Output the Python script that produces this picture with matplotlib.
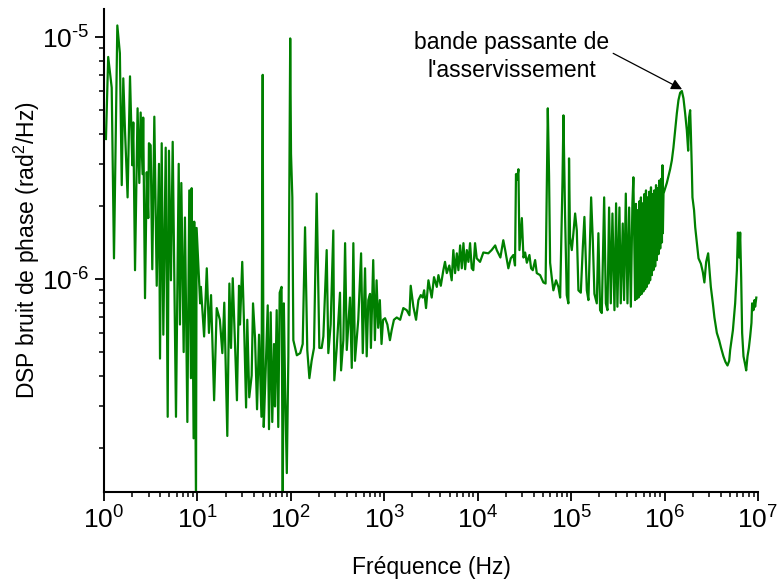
# DSP du bruit de phase - tracé log-log avec annotation de la bande passante

import numpy as np
import matplotlib
matplotlib.use("Agg")
import matplotlib.pyplot as plt
from matplotlib.ticker import LogLocator, NullFormatter, FixedLocator, FuncFormatter

plt.rcParams['font.family'] = ['Liberation Sans', 'DejaVu Sans']
plt.rcParams['mathtext.fontset'] = 'custom'
plt.rcParams['mathtext.rm'] = 'Liberation Sans'
plt.rcParams['mathtext.it'] = 'Liberation Sans:italic'
plt.rcParams['mathtext.bf'] = 'Liberation Sans:bold'

# données (fréquence en Hz, DSP en 1e-7 rad^2/Hz), par décade
freq_d0 = [1.05, 1.11, 1.21, 1.28, 1.39, 1.48, 1.55, 1.61, 1.68, 1.79,
           1.90, 2.01, 2.06, 2.15, 2.29, 2.39, 2.47, 2.59, 2.63, 2.75,
           2.87, 2.98, 3.03, 3.16, 3.29, 3.46, 3.67, 3.88, 3.98, 4.15,
           4.32, 4.58, 4.81, 4.96, 5.21, 5.44, 5.90, 6.31, 6.51, 6.73,
           7.13, 7.36, 7.81, 8.19, 8.53, 8.68, 9.11, 9.25, 9.66, 9.81]
psd_d0 = [38, 83, 62, 12.2, 112, 86, 24.5, 67.7, 41, 21.8,
          69, 29.6, 44.5, 10.9, 50.9, 25, 48.9, 27.2, 46.6, 8.35,
          27.7, 17.9, 36.5, 35.8, 11.0, 47, 9.4, 30, 4.7, 36.5,
          5.9, 35, 2.7, 34, 9.9, 37, 2.7, 30, 6.5, 25,
          5.0, 18, 2.57, 23.3, 3.9, 23.8, 2.2, 17.3, 1.2, 16.3]

freq_d1 = [10.2, 10.7, 10.9, 11.8, 12.6, 13.3, 14.0, 15.1, 16.1, 17.4,
           18.5, 19.4, 20.9, 22.0, 22.9, 23.9, 25.3, 26.5, 27.9, 28.6,
           30.2, 31.8, 33.2, 34.2, 35.9, 38.1, 39.4, 41.4, 43.5, 45.7,
           48.5, 50.0, 50.6, 51.3, 53.8, 56.6, 58.4, 60.9, 63.3, 66.1,
           67.7, 70.6, 73.4, 76.0, 79.6, 81.9, 84.2, 86.9, 90.6, 94.1,
           98.5, 100.5, 103.8, 106.4]
psd_d1 = [11.7, 7.95, 9.3, 5.8, 11.1, 6.0, 8.6, 3.16, 7.6, 6.8,
          4.95, 8.0, 2.25, 9.6, 5.2, 10.1, 5.4, 3.16, 9.4, 6.5,
          11.8, 5.9, 2.95, 6.8, 3.25, 4.0, 7.95, 5.7, 2.9, 5.9,
          2.7, 70, 9.2, 2.45, 4.2, 7.8, 2.4, 7.3, 2.57, 5.4,
          2.98, 7.45, 2.45, 8.8, 9.3, 1.2, 7.95, 3.48, 1.58, 4.8,
          99, 33, 21.8, 5.6]

freq_d2 = [116, 126, 134, 142, 150, 158, 167, 177, 189, 202,
           214, 223, 242, 252, 267, 285, 292, 310, 336, 345,
           365, 381, 397, 430, 449, 467, 486, 527, 565, 589,
           623, 649, 675, 704, 720, 762, 794, 828, 861, 897,
           935, 971]
psd_d2 = [4.85, 4.95, 5.4, 16.4, 5.1, 3.9, 4.6, 5.2, 22.6, 5.2,
          5.2, 5.8, 13.2, 4.95, 6.5, 15.9, 3.82, 5.2, 8.8, 4.2,
          5.6, 14.1, 5.1, 8.4, 4.3, 14.1, 4.6, 6.8, 12.8, 4.95,
          11.1, 4.8, 8.2, 8.7, 5.2, 12, 5.6, 9.9, 6.3, 8.2,
          5.4, 6.8]

freq_d3 = [1020, 1080, 1150, 1200, 1270, 1360, 1480, 1600, 1740, 1860,
           1920, 2050, 2190, 2320, 2460, 2580, 2670, 2800, 2970, 3220,
           3410, 3650, 3800, 4030, 4290, 4470, 4670, 4970, 5270, 5490,
           5730, 5980, 6220, 6490, 6760, 7040, 7340, 7650, 7960, 8290,
           8640, 8980, 9370, 9770]
psd_d3 = [6.9, 6.5, 5.6, 6.15, 6.8, 6.95, 6.8, 7.6, 7.45, 7.1,
          9.4, 7.7, 6.8, 8.2, 8.6, 8.4, 9.0, 7.6, 9.9, 8.4,
          10.2, 9.3, 10.4, 9.4, 10.9, 11.8, 10.6, 11.4, 9.9, 13.2,
          10.6, 12.8, 10.9, 13.8, 11.1, 14.1, 11.0, 13.2, 11.8, 14.1,
          11.1, 10.9, 14.1, 12.2]

freq_d4 = [10600, 11500, 13000, 14100, 15400, 16000, 17500, 18800, 19700, 21300,
           22600, 24100, 25100, 25700, 26400, 27300, 28000, 29700, 30900, 32200,
           33600, 35800, 37300, 38900, 41200, 42900, 46600, 50500, 53300, 56300,
           58100, 59600, 62200, 64600, 69000, 73100, 76300, 80800, 82800, 86100,
           89800, 93500, 95000, 97400]
psd_d4 = [11.8, 12.9, 12.8, 13.2, 13.8, 13.2, 12.3, 14.5, 13.2, 11.1,
          12.2, 12.6, 11.4, 27.2, 25.8, 28.5, 13.2, 17.9, 12.3, 12.9,
          11.7, 12.6, 11.1, 10.9, 12.0, 10.6, 10.4, 9.7, 9.6, 50.9,
          26.7, 11.7, 10.1, 9.0, 9.9, 9.3, 8.4, 25, 47.6, 18.7,
          8.6, 7.95, 31.6, 14.9]

freq_d5 = [101700, 105800, 110400, 115100, 119700, 127000, 133400, 138800, 147300, 153200,
           163800, 170700, 177600, 188300, 195900, 204300, 213000, 225800, 235400, 245000,
           255000, 266000, 277000, 291000, 303000, 313000, 329000, 340000, 357000, 369000,
           385000, 401000, 418000, 436000, 453000, 464000,
           484e3, 494e3, 505e3, 515e3, 526e3, 537e3, 548e3, 559e3, 571e3, 582e3,
           594e3, 607e3, 620e3, 633e3, 646e3, 659e3, 672e3, 686e3, 701e3, 716e3,
           731e3, 746e3, 760e3, 777e3, 794e3, 811e3, 828e3, 845e3, 862e3, 880e3,
           899e3, 918e3, 938e3, 950e3, 960e3, 975e3]
psd_d5 = [13.2, 15.5, 18.7, 15.9, 9.0, 8.8, 13.5, 18.1, 9.0, 8.2,
          21.8, 14.5, 8.7, 7.95, 15.5, 7.45, 7.25, 21.8, 7.95, 7.45,
          19.8, 7.95, 18.7, 7.45, 20.6, 7.7, 19.8, 7.95, 17.0, 8.2,
          22.6, 7.95, 19.8, 7.7, 20.6, 26.4,
          8.2, 20.5, 8.3, 19.3, 8.4, 21, 8.6, 21.8, 8.7, 20.6,
          8.9, 22.5, 9.1, 23.3, 9.3, 21.8, 9.6, 23, 9.9, 24,
          10.4, 22.5, 10.9, 23.3, 11.3, 24.5, 12.0, 23.8, 12.7, 25.6,
          13.4, 26, 14.2, 29.6, 15.5, 22.6]

freq_d6 = [1.058e6, 1.148e6, 1.197e6, 1.245e6, 1.298e6, 1.354e6, 1.409e6, 1.469e6, 1.532e6, 1.594e6,
           1.662e6, 1.732e6, 1.79e6, 1.83e6, 1.88e6, 1.91e6, 1.96e6, 1.99e6, 2.07e6, 2.13e6,
           2.22e6, 2.31e6, 2.45e6, 2.57e6, 2.67e6, 2.79e6, 2.93e6, 3.02e6, 3.13e6, 3.29e6,
           3.42e6, 3.63e6, 3.84e6, 4.03e6, 4.27e6, 4.49e6, 4.72e6, 4.92e6, 5.04e6, 5.39e6,
           5.70e6, 5.95e6, 6.10e6, 6.30e6, 6.45e6, 6.61e6, 6.77e6, 7.0e6, 7.24e6, 7.48e6,
           7.73e6, 7.99e6, 8.25e6, 8.52e6, 8.66e6, 8.95e6, 9.17e6, 9.33e6, 9.6e6]
psd_d6 = [25, 28.5, 31, 35, 41.3, 48.5, 55, 59, 60, 56,
          48.5, 41.3, 34, 46.6, 50, 41.3, 28.5, 21.8, 19.3, 16.4,
          14.1, 12.2, 11.6, 10.7, 9.7, 11.8, 12.8, 11.1, 9.3, 7.95,
          6.95, 6.0, 5.6, 5.2, 4.8, 4.55, 4.4, 4.6, 5.1, 6.15,
          7.95, 10.9, 15.6, 12.3, 15.6, 10.2, 6.0, 4.8, 4.5, 4.2,
          4.8, 5.2, 5.8, 6.6, 7.95, 7.45, 8.2, 7.7, 8.4]

# graduations principales
x_major = [1e0, 1e1, 1e2, 1e3, 1e4, 1e5, 1e6, 1e7]
y_major = [1e-6, 1e-5]

# annotation
note_text = "bande passante de\nl'asservissement"
note_xy = (2.33e4, 8.35e-6)       # centre du texte
arrow_start = (2.82e5, 8.59e-6)
arrow_tip = (1.54e6, 6.1e-6)      # sommet de la bande passante

freq = np.array(freq_d0 + freq_d1 + freq_d2 + freq_d3 + freq_d4 + freq_d5 + freq_d6)
psd = np.array(psd_d0 + psd_d1 + psd_d2 + psd_d3 + psd_d4 + psd_d5 + psd_d6) * 1e-7


def puissance_dix(v, pos):
    e = int(round(np.log10(v)))
    if e < 0:
        return r'$\mathdefault{10^{\text{-}%d}}$' % (-e)
    return r'$\mathdefault{10^{%d}}$' % e


fig = plt.figure(figsize=(7.77, 5.88), dpi=100)
ax = fig.add_axes([0.1338, 0.1633, 0.8417, 0.8214])

ax.plot(freq, psd, color='#008000', lw=1.6)

ax.set_xscale('log')
ax.set_yscale('log')
ax.set_xlim(1, 1e7)
ax.set_ylim(1.32e-7, 1.31e-5)

ax.xaxis.set_major_locator(FixedLocator(x_major))
ax.yaxis.set_major_locator(FixedLocator(y_major))
ax.xaxis.set_major_formatter(FuncFormatter(puissance_dix))
ax.yaxis.set_major_formatter(FuncFormatter(puissance_dix))
ax.xaxis.set_minor_locator(LogLocator(base=10, subs=np.arange(2, 10), numticks=100))
ax.xaxis.set_minor_formatter(NullFormatter())
ax.yaxis.set_minor_locator(LogLocator(base=10, subs=np.arange(2, 10), numticks=100))
ax.yaxis.set_minor_formatter(NullFormatter())

for side in ['top', 'right']:
    ax.spines[side].set_visible(False)
for side in ['left', 'bottom']:
    ax.spines[side].set_linewidth(1.5)

ax.tick_params(which='major', direction='out', length=6.5, width=1.3, labelsize=19, pad=4)
ax.tick_params(which='minor', direction='out', length=3.8, width=1.1)

ax.set_xlabel("Fréquence (Hz)", fontsize=16.5)
ax.set_ylabel("DSP bruit de phase (rad$^2$/Hz)", fontsize=16.5)
ax.xaxis.set_label_coords(0.5, -0.132)
ax.yaxis.set_label_coords(-0.094, 0.5)

ax.text(note_xy[0], note_xy[1], note_text, ha='center', va='center',
        fontsize=16.5, linespacing=1.25)
ax.annotate('', xy=arrow_tip, xytext=arrow_start,
            arrowprops=dict(arrowstyle='-|>', color='black', lw=0.9,
                            mutation_scale=16, shrinkA=0, shrinkB=0))

fig.savefig('out.png', dpi=100)
